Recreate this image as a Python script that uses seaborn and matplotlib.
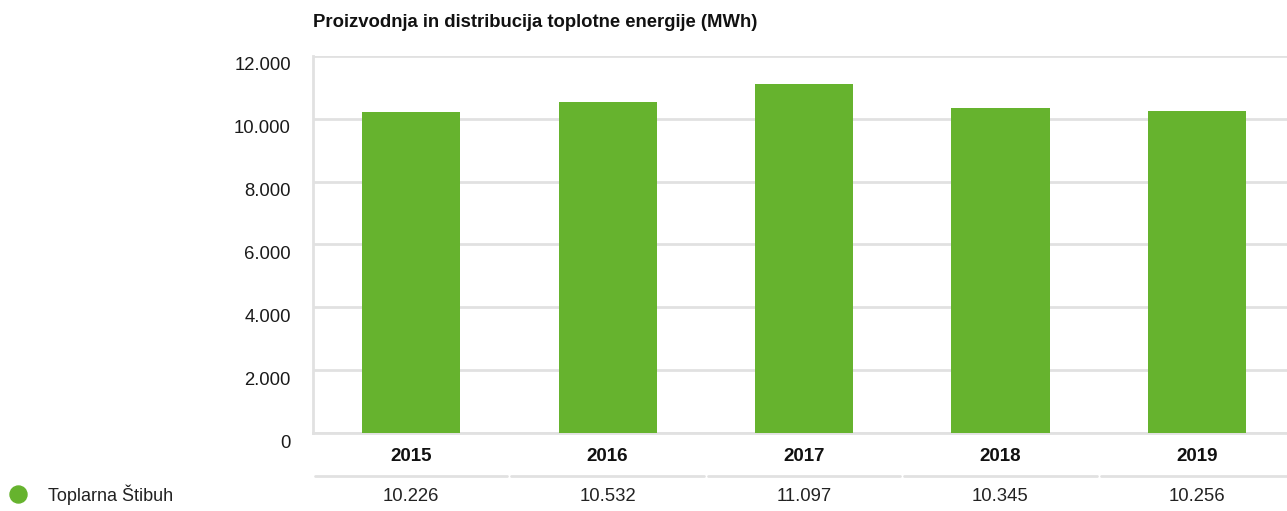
import numpy as np
import pandas as pd
import matplotlib
matplotlib.use("Agg")
import matplotlib.pyplot as plt
import matplotlib.transforms as mtransforms
import seaborn as sns

# data
years = ["2015", "2016", "2017", "2018", "2019"]
heat_mwh = [10226, 10532, 11097, 10345, 10256]
series_name = "Toplarna Štibuh"
title = "Proizvodnja in distribucija toplotne energije (MWh)"
y_ticks = [0, 2000, 4000, 6000, 8000, 10000, 12000]

green = "#66b32e"
grid_grey = "#e1e1e1"


def fmt_dot(v):
    # Slovenian style thousands separator
    return f"{v:,.0f}".replace(",", ".")


df = pd.DataFrame({"year": years, "value": heat_mwh})

sns.set_theme(style="white")
plt.rcParams["font.family"] = ["Liberation Sans", "DejaVu Sans"]

W, H = 1287, 511
fig = plt.figure(figsize=(W / 100, H / 100), dpi=100)
# plot area runs a little past the right edge of the picture
ax = fig.add_axes([313 / W, 1 - 433 / H, 982 / W, (433 - 56) / H])

sns.barplot(data=df, x="year", y="value", color=green, width=0.5,
            saturation=1, linewidth=0, edgecolor="none", ax=ax, zorder=3)

ax.set_axisbelow(True)
ax.set_ylim(0, 12000)
ax.set_xlim(-0.5, 4.5)
ax.set_yticks(y_ticks)
ax.set_yticklabels([fmt_dot(t) for t in y_ticks], fontsize=13.3, color="#1a1a1a")
ax.tick_params(axis="y", length=0, pad=16)
ax.set_xticks([])
ax.set_xlabel("")
ax.set_ylabel("")
ax.yaxis.grid(True, color=grid_grey, linewidth=2)

for side in ["top", "right"]:
    ax.spines[side].set_visible(False)
for side in ["left", "bottom"]:
    ax.spines[side].set_color(grid_grey)
    ax.spines[side].set_linewidth(2)

# tick labels sit a little below their gridlines
shift = mtransforms.ScaledTranslation(0, -8 / 100, fig.dpi_scale_trans)
for lab in ax.get_yticklabels():
    lab.set_transform(lab.get_transform() + shift)

ax.set_title(title, loc="left", fontsize=13.3, fontweight="bold",
             color="#111111", pad=21)

# table below the bars: year, separator, value
xt = ax.get_xaxis_transform()
ax_h = 433 - 56
for i, (yr, v) in enumerate(zip(years, heat_mwh)):
    ax.text(i, -(456 - 433) / ax_h, yr, transform=xt, ha="center",
            va="center", fontsize=13.5, fontweight="bold", color="#111111")
    ax.plot([i - 0.49, i + 0.49], [-(476 - 433) / ax_h] * 2, transform=xt,
            color=grid_grey, linewidth=2, clip_on=False)
    ax.text(i, -(496 - 433) / ax_h, fmt_dot(v), transform=xt, ha="center",
            va="center", fontsize=13.3, color="#222222")

# legend entry at bottom left
ax.scatter([18 / W], [1 - 494 / H], s=150, color=green, transform=fig.transFigure,
           clip_on=False, zorder=5)
fig.text(48 / W, 1 - 495 / H, series_name, fontsize=13, color="#222222",
         va="center", ha="left")

fig.savefig("out.png", dpi=100)
